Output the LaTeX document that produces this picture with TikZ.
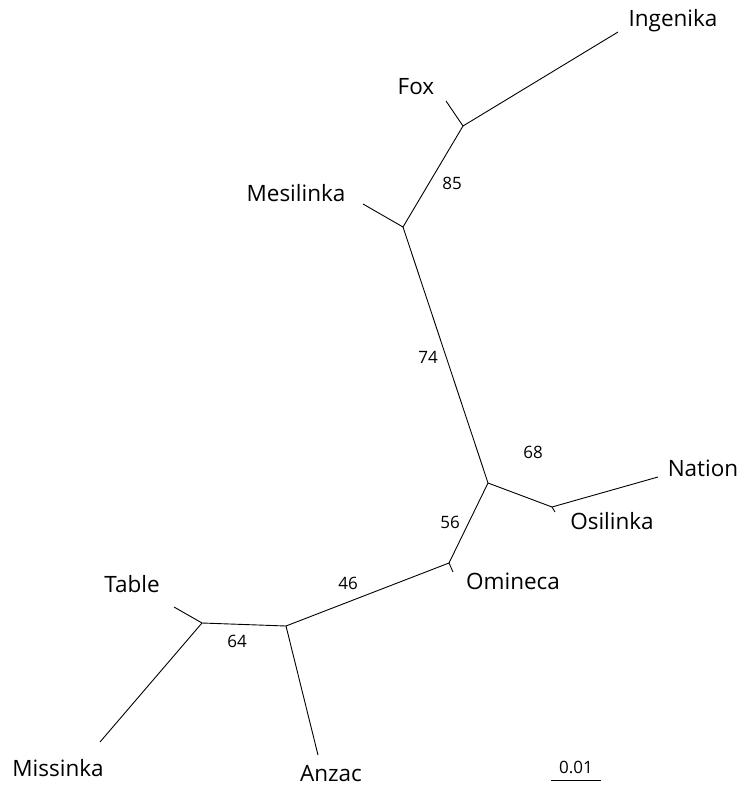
\documentclass[tikz,border=0pt]{standalone}
\usepackage{fontspec}
\setmainfont{Open Sans}
\begin{document}
\begin{tikzpicture}[x=1pt,y=-1pt,
  br/.style={draw=black,line width=0.9pt},
  lbl/.style={font=\fontsize{22.5}{26}\selectfont,inner sep=0pt},
  bs/.style={font=\fontsize{17}{19}\selectfont,inner sep=0pt}]
\useasboundingbox (0,0) rectangle (745,786);
\coordinate (jFox) at (463,126);
\coordinate (tIng) at (618,32);
\coordinate (tFox) at (446,101);
\coordinate (jMes) at (403,227);
\coordinate (tMes) at (363,204);
\coordinate (jC) at (488,483);
\coordinate (jOs) at (552,507);
\coordinate (tOs) at (555,512);
\coordinate (tNat) at (658,477);
\coordinate (jOm) at (449,563);
\coordinate (tOm) at (453,572);
\coordinate (jA) at (286,626);
\coordinate (jT) at (202,623);
\coordinate (tT) at (174,607);
\coordinate (tMis) at (100,742);
\coordinate (tAnz) at (318,755);
\draw[br] (tIng) -- (jFox) -- (tFox);
\draw[br] (jFox) -- (jMes) -- (tMes);
\draw[br] (jMes) -- (jC) -- (jOs) -- (tNat);
\draw[br] (jOs) -- (tOs);
\draw[br] (jC) -- (jOm) -- (tOm);
\draw[br] (jOm) -- (jA) -- (tAnz);
\draw[br] (jA) -- (jT) -- (tT);
\draw[br] (jT) -- (tMis);
\node[lbl] (Ing) at (673,21) {Ingenika};
\node[lbl] (Fox) at (416,87) {Fox};
\node[lbl] (Mes) at (296,193) {Mesilinka};
\node[lbl] (Nat) at (703,468) {Nation};
\node[lbl] (Osi) at (612,521) {Osilinka};
\node[lbl] (Omi) at (513,581) {Omineca};
\node[lbl] (Tab) at (132,584) {Table};
\node[lbl] (Mis) at (58,768) {Missinka};
\node[lbl] (Anz) at (331,774) {Anzac};
\node[bs] (b85) at (452,183) {85};
\node[bs] (b74) at (428,357) {74};
\node[bs] (b68) at (533,452) {68};
\node[bs] (b56) at (450,522) {56};
\node[bs] (b46) at (348,583) {46};
\node[bs] (b64) at (237,641) {64};
\coordinate (s1) at (551,780);
\coordinate (s2) at (601,780);
\draw[br] (s1) -- (s2);
\node[bs] (sc) at (576,767) {0.01};
\end{tikzpicture}
\end{document}
